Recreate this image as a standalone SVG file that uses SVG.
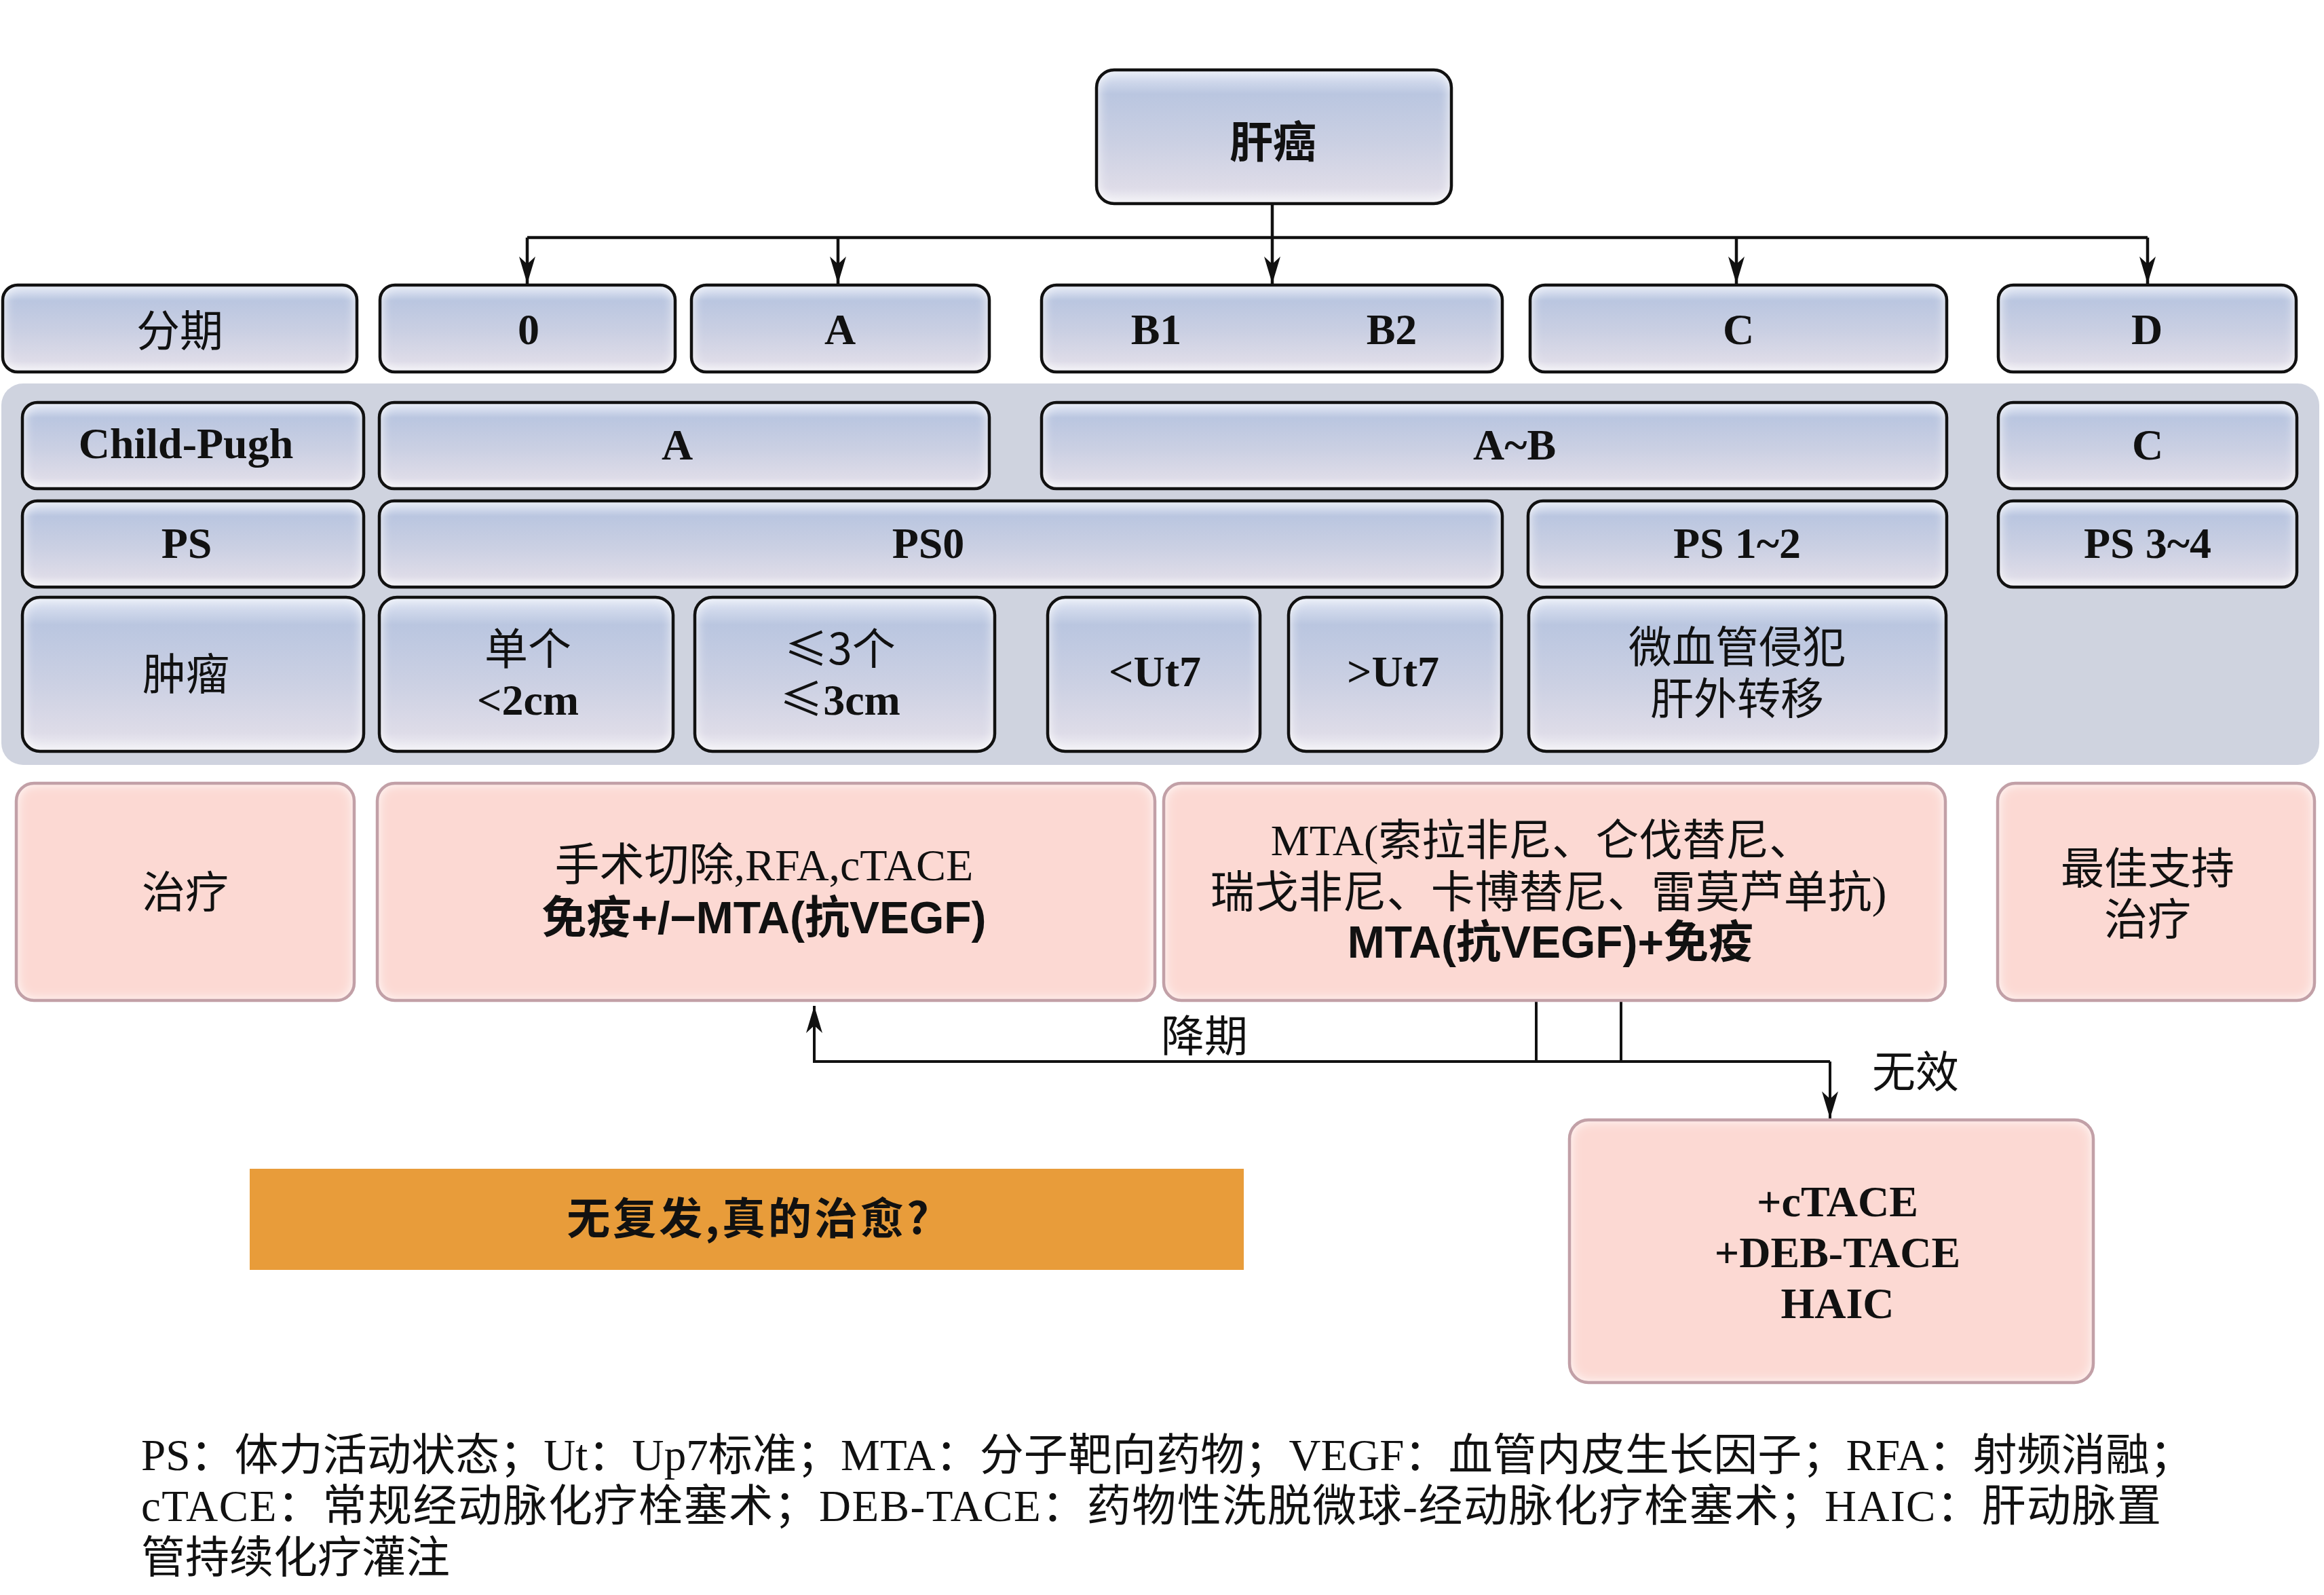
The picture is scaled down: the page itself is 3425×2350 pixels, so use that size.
<svg xmlns="http://www.w3.org/2000/svg" width="3425" height="2350" viewBox="0 0 3425 2350">
<defs>
<linearGradient id="blue" x1="0" y1="0" x2="0" y2="1">
<stop offset="0" stop-color="#e2e8f5"/>
<stop offset="0.18" stop-color="#bac6e0"/>
<stop offset="0.55" stop-color="#cbd0e3"/>
<stop offset="0.88" stop-color="#dedce8"/>
<stop offset="1" stop-color="#f0eff5"/>
</linearGradient>
<filter id="glow" x="-5%" y="-5%" width="110%" height="110%">
<feFlood flood-color="#ffffff" result="w"/>
<feComposite in="w" in2="SourceAlpha" operator="out" result="outside"/>
<feGaussianBlur in="outside" stdDeviation="9" result="bl"/>
<feComposite in="bl" in2="SourceAlpha" operator="in" result="inner"/>
<feMerge><feMergeNode in="SourceGraphic"/><feMergeNode in="inner"/></feMerge>
</filter>
<marker id="arr" viewBox="0 0 40 24" refX="40" refY="12" markerWidth="40" markerHeight="24" markerUnits="userSpaceOnUse" orient="auto">
<path d="M0,0 L40,12 L0,24 L11,12 Z" fill="#111"/>
</marker>
<style>
.bf{fill:url(#blue);filter:url(#glow)}
.bs{fill:none;stroke:#111;stroke-width:4.5}
.pf{fill:#fcd9d3;filter:url(#glow)}
.ps{fill:none;stroke:#c2a0a7;stroke-width:4.5}
.lat{font-family:"Liberation Serif","Noto Sans CJK SC",serif;font-weight:bold;font-size:64px;fill:#111;text-anchor:middle}
.ser{font-family:"Liberation Serif","Noto Sans CJK SC",serif;font-size:66px;fill:#111;text-anchor:middle}
.cjk{font-family:"Noto Sans CJK SC",sans-serif;font-size:64px;fill:#111;text-anchor:middle}
.bsans{font-family:"Liberation Sans","Noto Sans CJK SC",sans-serif;font-weight:bold;font-size:66px;fill:#111;text-anchor:middle}
.foot{font-family:"Liberation Serif","Noto Sans CJK SC",serif;font-size:65px;fill:#111}
.ln{fill:none;stroke:#111;stroke-width:4.5}
.ln2{fill:none;stroke:#111;stroke-width:4}
</style>
</defs>
<rect width="3425" height="2350" fill="#ffffff"/>

<g id="panel"><rect x="2" y="565" width="3416" height="562" rx="32" fill="#cfd3df"/></g>

<g id="connectors">
<path class="ln" d="M1875,300 V418" marker-end="url(#arr)"/>
<path class="ln" d="M777,350 H3165"/>
<path class="ln" d="M777,350 V418" marker-end="url(#arr)"/>
<path class="ln" d="M1235,350 V418" marker-end="url(#arr)"/>
<path class="ln" d="M2559,350 V418" marker-end="url(#arr)"/>
<path class="ln" d="M3165,350 V418" marker-end="url(#arr)"/>
<path class="ln2" d="M2264,1474 V1564"/>
<path class="ln2" d="M2389,1474 V1564"/>
<path class="ln2" d="M2697,1564 H1200 V1482" marker-end="url(#arr)"/>
<path class="ln2" d="M2697,1564 V1648" marker-end="url(#arr)"/>
<text class="cjk" x="1775" y="1549">降期</text>
<text class="cjk" x="2823" y="1602">无效</text>
</g>

<g id="n-liver"><rect class="bf" x="1616" y="103" width="523" height="197" rx="26"/><rect class="bs" x="1616" y="103" width="523" height="197" rx="26"/><text class="cjk" style="font-weight:bold" x="1876" y="232">肝癌</text></g>

<g id="n-stage-label"><rect class="bf" x="4" y="420" width="522" height="128" rx="22"/><rect class="bs" x="4" y="420" width="522" height="128" rx="22"/><text class="cjk" x="265" y="510">分期</text></g>
<g id="n-stage-0"><rect class="bf" x="560" y="420" width="435" height="128" rx="22"/><rect class="bs" x="560" y="420" width="435" height="128" rx="22"/><text class="lat" x="779" y="507">0</text></g>
<g id="n-stage-a"><rect class="bf" x="1019" y="420" width="439" height="128" rx="22"/><rect class="bs" x="1019" y="420" width="439" height="128" rx="22"/><text class="lat" x="1238" y="507">A</text></g>
<g id="n-stage-b"><rect class="bf" x="1535" y="420" width="679" height="128" rx="22"/><rect class="bs" x="1535" y="420" width="679" height="128" rx="22"/><text class="lat" x="1704" y="507">B1</text><text class="lat" x="2051" y="507">B2</text></g>
<g id="n-stage-c"><rect class="bf" x="2255" y="420" width="614" height="128" rx="22"/><rect class="bs" x="2255" y="420" width="614" height="128" rx="22"/><text class="lat" x="2562" y="507">C</text></g>
<g id="n-stage-d"><rect class="bf" x="2945" y="420" width="439" height="128" rx="22"/><rect class="bs" x="2945" y="420" width="439" height="128" rx="22"/><text class="lat" x="3164" y="507">D</text></g>

<g id="n-cp-label"><rect class="bf" x="33" y="593" width="503" height="127" rx="22"/><rect class="bs" x="33" y="593" width="503" height="127" rx="22"/><text class="lat" x="274" y="675">Child-Pugh</text></g>
<g id="n-cp-a"><rect class="bf" x="559" y="593" width="899" height="127" rx="22"/><rect class="bs" x="559" y="593" width="899" height="127" rx="22"/><text class="lat" x="998" y="677">A</text></g>
<g id="n-cp-ab"><rect class="bf" x="1535" y="593" width="1334" height="127" rx="22"/><rect class="bs" x="1535" y="593" width="1334" height="127" rx="22"/><text class="lat" x="2232" y="677">A~B</text></g>
<g id="n-cp-c"><rect class="bf" x="2945" y="593" width="440" height="127" rx="22"/><rect class="bs" x="2945" y="593" width="440" height="127" rx="22"/><text class="lat" x="3165" y="677">C</text></g>

<g id="n-ps-label"><rect class="bf" x="33" y="738" width="503" height="127" rx="22"/><rect class="bs" x="33" y="738" width="503" height="127" rx="22"/><text class="lat" x="275" y="822">PS</text></g>
<g id="n-ps-0"><rect class="bf" x="559" y="738" width="1655" height="127" rx="22"/><rect class="bs" x="559" y="738" width="1655" height="127" rx="22"/><text class="lat" x="1368" y="822">PS0</text></g>
<g id="n-ps-12"><rect class="bf" x="2252" y="738" width="617" height="127" rx="22"/><rect class="bs" x="2252" y="738" width="617" height="127" rx="22"/><text class="lat" x="2560" y="822">PS 1~2</text></g>
<g id="n-ps-34"><rect class="bf" x="2945" y="738" width="440" height="127" rx="22"/><rect class="bs" x="2945" y="738" width="440" height="127" rx="22"/><text class="lat" x="3165" y="822">PS 3~4</text></g>

<g id="n-tumor-label"><rect class="bf" x="33" y="880" width="503" height="227" rx="26"/><rect class="bs" x="33" y="880" width="503" height="227" rx="26"/><text class="cjk" x="274" y="1016">肿瘤</text></g>
<g id="n-tumor-single"><rect class="bf" x="559" y="880" width="433" height="227" rx="26"/><rect class="bs" x="559" y="880" width="433" height="227" rx="26"/><text class="cjk" x="778" y="979">单个</text><text class="lat" x="778" y="1053">&lt;2cm</text></g>
<g id="n-tumor-three"><rect class="bf" x="1024" y="880" width="442" height="227" rx="26"/><rect class="bs" x="1024" y="880" width="442" height="227" rx="26"/><text class="cjk" x="1238" y="979">≤3个</text><text class="lat" x="1238" y="1053"><tspan style="font-family:'Noto Sans CJK SC',sans-serif;font-weight:normal">≤</tspan>3cm</text></g>
<g id="n-tumor-lt"><rect class="bf" x="1544" y="880" width="313" height="227" rx="26"/><rect class="bs" x="1544" y="880" width="313" height="227" rx="26"/><text class="lat" x="1702" y="1011">&lt;Ut7</text></g>
<g id="n-tumor-gt"><rect class="bf" x="1899" y="880" width="314" height="227" rx="26"/><rect class="bs" x="1899" y="880" width="314" height="227" rx="26"/><text class="lat" x="2053" y="1011">&gt;Ut7</text></g>
<g id="n-tumor-mvi"><rect class="bf" x="2253" y="880" width="615" height="227" rx="26"/><rect class="bs" x="2253" y="880" width="615" height="227" rx="26"/><text class="cjk" x="2560" y="976">微血管侵犯</text><text class="cjk" x="2560" y="1052">肝外转移</text></g>

<g id="n-tx-label"><rect class="pf" x="24" y="1154" width="498" height="320" rx="26"/><rect class="ps" x="24" y="1154" width="498" height="320" rx="26"/><text class="cjk" x="273" y="1337">治疗</text></g>
<g id="n-tx-early"><rect class="pf" x="556" y="1154" width="1146" height="320" rx="26"/><rect class="ps" x="556" y="1154" width="1146" height="320" rx="26"/><text class="ser" x="1126" y="1297">手术切除,RFA,cTACE</text><text class="bsans" x="1126" y="1375">免疫+/−MTA(抗VEGF)</text></g>
<g id="n-tx-mid"><rect class="pf" x="1715" y="1154" width="1152" height="320" rx="26"/><rect class="ps" x="1715" y="1154" width="1152" height="320" rx="26"/><text class="ser" style="font-size:64px" x="2272" y="1260">MTA(索拉非尼、仑伐替尼、</text><text class="ser" style="font-size:65px" x="2282" y="1337">瑞戈非尼、卡博替尼、雷莫芦单抗)</text><text class="bsans" x="2285" y="1411">MTA(抗VEGF)+免疫</text></g>
<g id="n-tx-bsc"><rect class="pf" x="2944" y="1154" width="467" height="320" rx="26"/><rect class="ps" x="2944" y="1154" width="467" height="320" rx="26"/><text class="cjk" x="3165" y="1302">最佳支持</text><text class="cjk" x="3165" y="1377">治疗</text></g>

<g id="n-tace"><rect class="pf" x="2313" y="1650" width="772" height="387" rx="28"/><rect class="ps" x="2313" y="1650" width="772" height="387" rx="28"/><text class="lat" x="2708" y="1792">+cTACE</text><text class="lat" x="2708" y="1867">+DEB-TACE</text><text class="lat" x="2708" y="1942">HAIC</text></g>

<g id="n-cure"><rect x="368" y="1722" width="1465" height="149" fill="#e89c3a"/><text class="cjk" style="font-weight:bold;letter-spacing:4px" x="1104" y="1818">无复发,真的治愈?</text></g>

<g id="footnote">
<text class="foot" x="208" y="2166" textLength="3025" lengthAdjust="spacing">PS：体力活动状态；Ut：Up7标准；MTA：分子靶向药物；VEGF：血管内皮生长因子；RFA：射频消融；</text>
<text class="foot" x="208" y="2241" textLength="2977" lengthAdjust="spacing">cTACE：常规经动脉化疗栓塞术；DEB-TACE：药物性洗脱微球-经动脉化疗栓塞术；HAIC：肝动脉置</text>
<text class="foot" x="208" y="2317">管持续化疗灌注</text>
</g>
</svg>
